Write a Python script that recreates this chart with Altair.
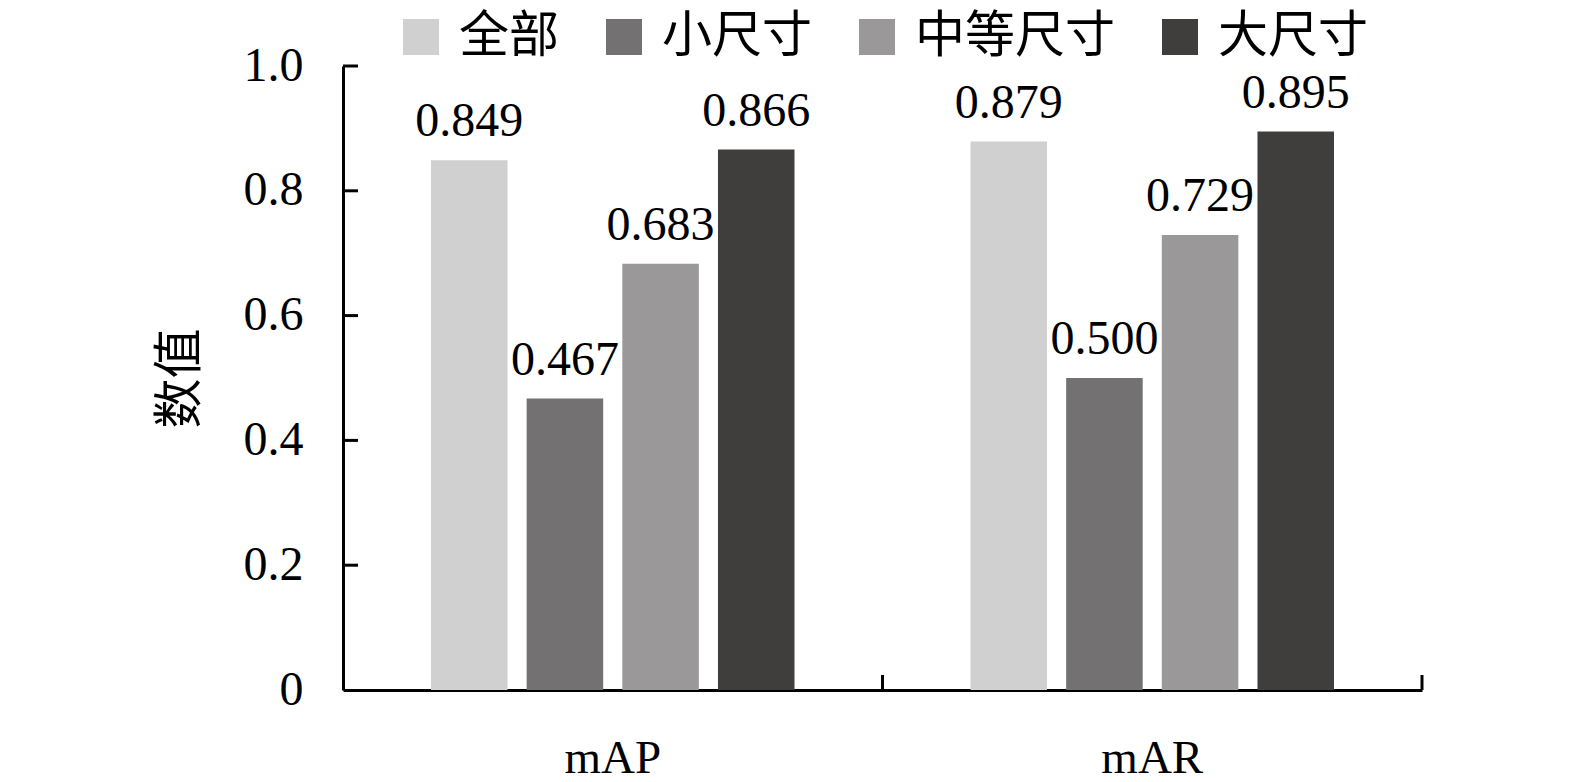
import altair as alt
import pandas as pd

metrics = ["mAP", "mAR"]
sizes = ["全部", "小尺寸", "中等尺寸", "大尺寸"]
map_values = [0.849, 0.467, 0.683, 0.866]
mar_values = [0.879, 0.500, 0.729, 0.895]
colors = ["#d0d0d0", "#737171", "#9a9899", "#403e3c"]
y_ticks = [0.2, 0.4, 0.6, 0.8, 1.0]

rows = []
for m, vals in zip(metrics, [map_values, mar_values]):
    for s, v in zip(sizes, vals):
        rows.append({"metric": m, "size": s, "value": v})
df = pd.DataFrame(rows)
tick_df = pd.DataFrame({"value": y_ticks})
xtick_df = pd.DataFrame({"metric": metrics})

W, H = 1079, 624
FONT = "Liberation Serif, Times New Roman, Noto Sans CJK SC"

x_enc = alt.X("metric:N", sort=metrics, title=None,
              scale=alt.Scale(paddingInner=0, paddingOuter=0),
              axis=alt.Axis(labelAngle=0, ticks=False, tickSize=0, labelFontSize=47,
                            labelPadding=45, labelFont=FONT, labelColor="#000",
                            domainColor="#000", domainWidth=3))
y_enc = alt.Y("value:Q", title="数值",
              scale=alt.Scale(domain=[0, 1.0], nice=False),
              axis=alt.Axis(values=[0, 0.2, 0.4, 0.6, 0.8, 1.0], ticks=False, tickSize=0,
                            grid=False, labelPadding=40, labelFontSize=48,
                            labelFont=FONT, labelColor="#000",
                            labelExpr="datum.value == 0 ? '0' : format(datum.value, '.1f')",
                            domainColor="#000", domainWidth=3,
                            titleFont="Noto Sans CJK SC", titleFontSize=50,
                            titleFontWeight="normal", titleColor="#000",
                            titlePadding=38))
xoff = alt.XOffset("size:N", sort=sizes,
                   scale=alt.Scale(paddingInner=0.2, paddingOuter=0.92))

bars = alt.Chart(df).mark_bar().encode(
    x=x_enc,
    xOffset=xoff,
    y=y_enc,
    color=alt.Color("size:N", sort=sizes,
                    scale=alt.Scale(domain=sizes, range=colors),
                    legend=alt.Legend(title=None, orient="none", direction="horizontal",
                                      legendX=53, legendY=-54, symbolType="square",
                                      symbolSize=1296, symbolStrokeWidth=0,
                                      labelFontSize=50, labelFont="Noto Sans CJK SC",
                                      labelColor="#000", labelOffset=13, labelLimit=0,
                                      columnPadding=40, padding=0,
                                      symbolOpacity=1)),
)

labels = alt.Chart(df).mark_text(fontSize=48, font=FONT, color="#000",
                                 baseline="alphabetic", dy=-24).encode(
    x=alt.X("metric:N", sort=metrics),
    xOffset=xoff,
    y=alt.Y("value:Q"),
    text=alt.Text("value:Q", format=".3f"),
)

yticks = alt.Chart(tick_df).mark_rule(color="#000", strokeWidth=3).encode(
    y=alt.Y("value:Q"),
    x=alt.value(0),
    x2=alt.value(15),
)

xticks = alt.Chart(xtick_df).mark_rule(color="#000", strokeWidth=3).encode(
    x=alt.X("metric:N", sort=metrics, bandPosition=1),
    y=alt.value(H - 15),
    y2=alt.value(H),
)

chart = alt.layer(bars, labels, yticks, xticks).properties(
    width=W, height=H,
    background="white",
    autosize=alt.AutoSizeParams(type="none"),
    padding={"left": 335, "top": 58, "right": 100, "bottom": 95},
).configure_view(strokeWidth=0)

chart.save("out.html", embed_options={"renderer": "svg", "actions": False})
